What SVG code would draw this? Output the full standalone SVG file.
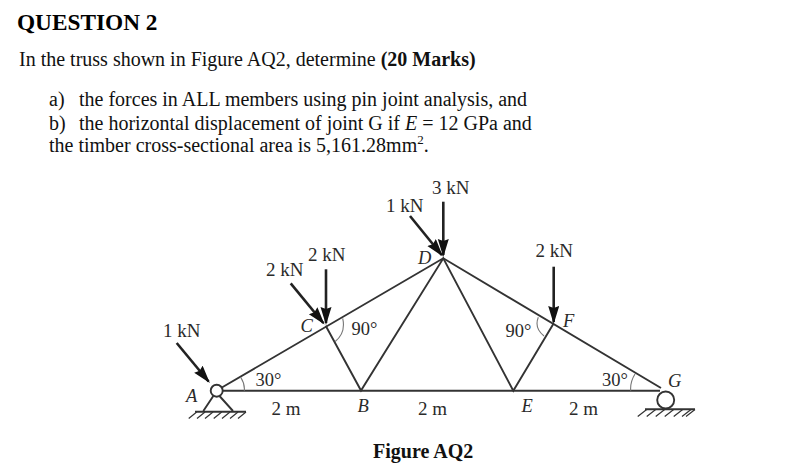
<svg xmlns="http://www.w3.org/2000/svg" width="793" height="466" viewBox="0 0 793 466">
<style>
text{font-family:"Liberation Serif","Times New Roman",serif;fill:#111}
.t{font-size:20px}
.h{font-size:23.3px;font-weight:700;fill:#000}
.l{font-size:19px;fill:#2a2a2a}
.d{font-size:18.5px;fill:#2a2a2a}
.i{font-size:18.5px;font-style:italic;fill:#2a2a2a}
.m{fill:none;stroke:#333;stroke-width:1.9}
.a{fill:none;stroke:#777;stroke-width:1.1}
.f{stroke:#222;stroke-width:2.6;fill:none;marker-end:url(#ah)}
.g{stroke:#333;stroke-width:1.2;fill:none}
</style>
<defs>
<marker id="ah" markerUnits="userSpaceOnUse" markerWidth="22" markerHeight="12" refX="16" refY="5.5" orient="auto"><path d="M0 0L18 5.5L0 11L2 5.5Z" fill="#111"/></marker>
</defs>
<rect width="793" height="466" fill="#fff"/>
<g id="question">
<text class="h" x="17" y="30">QUESTION 2</text>
<text class="t" x="19" y="66">In the truss shown in Figure AQ2, determine <tspan font-weight="700">(20 Marks)</tspan></text>
<text class="t" x="49" y="106">a)</text><text class="t" x="79" y="106">the forces in ALL members using pin joint analysis, and</text>
<text class="t" x="49" y="130">b)</text><text class="t" x="79" y="130">the horizontal displacement of joint G if <tspan font-style="italic">E</tspan> = 12 GPa and</text>
<text class="t" x="49" y="152">the timber cross-sectional area is 5,161.28mm<tspan font-size="13" dy="-8">2</tspan><tspan dy="8">.</tspan></text>
</g>
<g id="connectors">
<path class="m" d="M222 390.8H660"/>
<path class="m" d="M221 388L443.3 258.3L661 388"/>
<path class="m" d="M325.7 325.7L361 390.5L443.3 258.3L513.3 390.7L553.3 324"/>
<path class="a" d="M240.7 377.3Q245 384 244.3 390.7M342.7 318.3Q346 333 335 341.7M538.3 317.3Q534 328 544 336M635 374Q630 382 630.7 390.7"/>
<path class="f" d="M176.7 343L208.6 381.5"/>
<path class="f" d="M290.7 283.3L323.3 323"/>
<path class="f" d="M326 269.3V323"/>
<path class="f" d="M410 216L441.7 255"/>
<path class="f" d="M443.3 201.7V255"/>
<path class="f" d="M553.7 266.7V322"/>
</g>
<g id="node-A">
<path class="m" d="M213.3 396L203.3 411M219.5 396L233 411"/>
<circle cx="216.7" cy="390.7" r="6" fill="#fff" stroke="#333" stroke-width="1.9"/>
<path class="m" d="M195 411.7H246"/>
<path class="g" d="M196.7 412l-8 6.5M205 412l-8 6.5M213 412l-8 6.5M221.7 412l-8 6.5M230 412l-8 6.5M238 412l-8 6.5M246 412l-8 6.5"/>
<text class="i" x="186" y="402">A</text>
</g>
<g id="node-B"><text class="i" x="357.5" y="412">B</text></g>
<g id="node-C"><text class="i" x="300.5" y="332">C</text></g>
<g id="node-D"><text class="i" x="418" y="264">D</text></g>
<g id="node-E"><text class="i" x="521.5" y="412.3">E</text></g>
<g id="node-F"><text class="i" x="563" y="326.5">F</text></g>
<g id="node-G">
<circle cx="665.7" cy="400" r="8.5" fill="#fff" stroke="#333" stroke-width="1.9"/>
<path class="m" d="M645 409.3H695"/>
<path class="g" d="M646.7 409.5l-9 7M655.7 409.5l-9 7M664.7 409.5l-9 7M673.7 409.5l-9 7M682.7 409.5l-9 7M691 409.5l-9 7M695 409.5l-9 7"/>
<text class="i" x="668" y="386.5">G</text>
</g>
<g id="labels">
<text class="l" x="163" y="337">1 kN</text>
<text class="l" x="266" y="276">2 kN</text>
<text class="l" x="308" y="260.5">2 kN</text>
<text class="l" x="386" y="211.5">1 kN</text>
<text class="l" x="432" y="194">3 kN</text>
<text class="l" x="535.5" y="256.5">2 kN</text>
<text class="d" x="351.5" y="334.5">90°</text>
<text class="d" x="505.5" y="336.5">90°</text>
<text class="d" x="255.5" y="385.5">30°</text>
<text class="d" x="602" y="386">30°</text>
<text class="l" x="271.5" y="415">2 m</text>
<text class="l" x="418" y="415">2 m</text>
<text class="l" x="569" y="415">2 m</text>
<text class="t" x="373" y="458" font-weight="700">Figure AQ2</text>
</g>
</svg>
